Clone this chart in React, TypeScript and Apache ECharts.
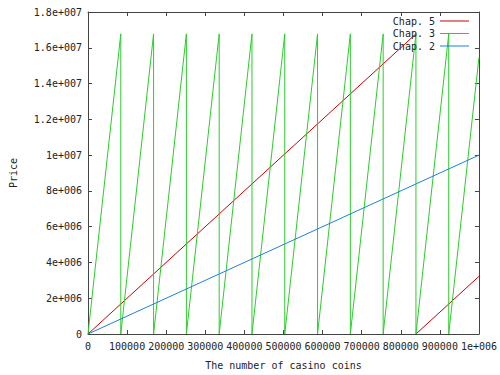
import React, { useEffect, useRef } from "react";
import * as echarts from "echarts";

const seriesNames = ["Chap. 5", "Chap. 3", "Chap. 2"];

const chap5: [number, number | string][] = [
  [0, 0],
  [838861, 16777216],
  [838861, "-"],
  [838861, 0],
  [1000000, 3222784],
];

const chap3: [number, number][] = [
  [0, 0],
  [83886, 16777216], [83886, 0],
  [167772, 16777216], [167772, 0],
  [251658, 16777216], [251658, 0],
  [335544, 16777216], [335544, 0],
  [419430, 16777216], [419430, 0],
  [503316, 16777216], [503316, 0],
  [587203, 16777216], [587203, 0],
  [671089, 16777216], [671089, 0],
  [754975, 16777216], [754975, 0],
  [838861, 16777216], [838861, 0],
  [922747, 16777216], [922747, 0],
  [1000000, 15450600],
];

const chap2: [number, number][] = [
  [0, 0],
  [1000000, 10000000],
];

const xTickLabels = ["0", "100000", "200000", "300000", "400000", "500000", "600000", "700000", "800000", "900000", "1e+006"];
const yTickLabels = ["0", "2e+006", "4e+006", "6e+006", "8e+006", "1e+007", "1.2e+007", "1.4e+007", "1.6e+007", "1.8e+007"];

const colors = ["#cc0000", "#2ccc2c", "#1a80e0"];
const FONT = "DejaVu Sans Mono";
const TXT = "#222";
const AX = "#444";

export default function App() {
  const ref = useRef<HTMLDivElement>(null);
  useEffect(() => {
    const chart = echarts.init(ref.current!, null, { renderer: "svg" });
    const axisCommon = {
      type: "value" as const,
      axisLine: { show: true, onZero: false, lineStyle: { color: AX, width: 1 } },
      axisTick: { show: true, inside: true, length: 4, lineStyle: { color: AX } },
      splitLine: { show: false },
    };
    chart.setOption({
      animation: false,
      backgroundColor: "#fff",
      textStyle: { fontFamily: FONT },
      grid: { left: 88, right: 19, top: 12, bottom: 38 },
      legend: {
        data: seriesNames,
        orient: "vertical",
        right: 31,
        top: 15,
        align: "right",
        icon: "rect",
        itemWidth: 29,
        itemHeight: 1,
        itemGap: 0.5,
        textStyle: { fontFamily: FONT, fontSize: 10, color: TXT, lineHeight: 12, padding: [0, 0, 0, 0] },
        padding: 0,
      },
      xAxis: [
        {
          ...axisCommon,
          position: "bottom",
          min: 0,
          max: 1000000,
          interval: 100000,
          name: "The number of casino coins",
          nameLocation: "middle",
          nameGap: 26,
          nameTextStyle: { fontFamily: FONT, fontSize: 10, color: TXT },
          axisLabel: {
            margin: 7,
            fontFamily: FONT,
            fontSize: 10,
            color: TXT,
            formatter: (v: number) => xTickLabels[Math.round(v / 100000)] ?? "",
          },
        },
        {
          ...axisCommon,
          position: "top",
          min: 0,
          max: 1000000,
          interval: 100000,
          axisLabel: { show: false },
        },
      ],
      yAxis: [
        {
          ...axisCommon,
          position: "left",
          min: 0,
          max: 18000000,
          interval: 2000000,
          name: "Price",
          nameLocation: "middle",
          nameGap: 70,
          nameRotate: 90,
          nameTextStyle: { fontFamily: FONT, fontSize: 10, color: TXT },
          axisLabel: {
            margin: 6,
            fontFamily: FONT,
            fontSize: 10,
            color: TXT,
            formatter: (v: number) => yTickLabels[Math.round(v / 2000000)] ?? "",
          },
        },
        {
          ...axisCommon,
          position: "right",
          min: 0,
          max: 18000000,
          interval: 2000000,
          axisLabel: { show: false },
        },
      ],
      series: [
        { name: seriesNames[0], type: "line", data: chap5, showSymbol: false, connectNulls: false, lineStyle: { width: 1, color: colors[0] }, itemStyle: { color: colors[0] } },
        { name: seriesNames[1], type: "line", data: chap3, showSymbol: false, lineStyle: { width: 1, color: colors[1] }, itemStyle: { color: colors[1] } },
        { name: seriesNames[2], type: "line", data: chap2, showSymbol: false, lineStyle: { width: 1, color: colors[2] }, itemStyle: { color: colors[2] } },
      ],
    });
    return () => chart.dispose();
  }, []);
  return <div ref={ref} style={{ width: 500, height: 375, position: "absolute", left: 0, top: 0 }} />;
}
